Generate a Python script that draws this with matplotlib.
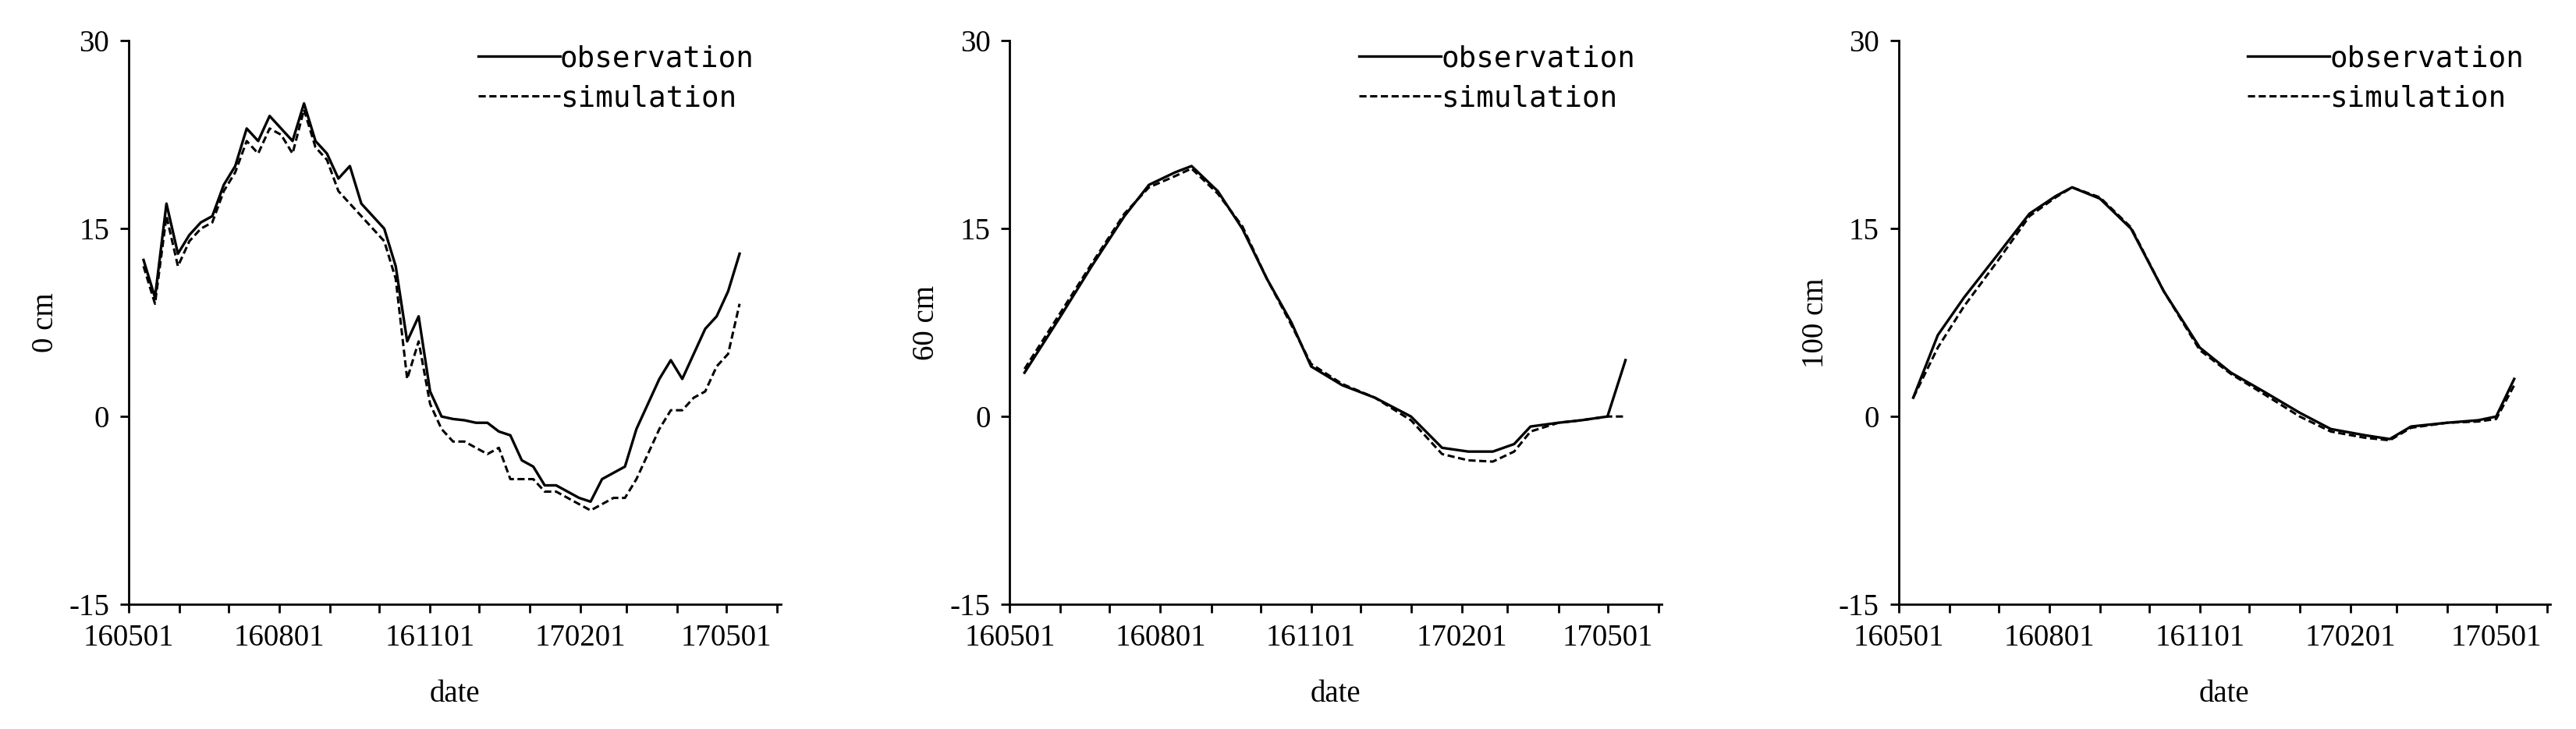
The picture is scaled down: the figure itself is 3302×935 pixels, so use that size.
import matplotlib
matplotlib.use("Agg")
import matplotlib.pyplot as plt
import matplotlib.dates as mdates
import datetime as dt

plt.rcParams["axes.unicode_minus"] = False

# ---- data ----
start0 = dt.date(2016, 5, 10)
dates0 = [start0 + dt.timedelta(days=7 * i) for i in range(53)]
obs0 = [12.5, 9.5, 17, 13, 14.5, 15.5, 16, 18.5, 20, 23, 22, 24, 23, 22, 25, 22, 21, 19, 20, 17, 16,
        15, 12, 6, 8, 2, 0, -0.2, -0.3, -0.5, -0.5, -1.2, -1.5, -3.5, -4, -5.5, -5.5, -6, -6.5, -6.8,
        -5, -4.5, -4, -1, 1, 3, 4.5, 3, 5, 7, 8, 10, 13]
sim0 = [12, 9, 16, 12, 14, 15, 15.5, 18, 19.5, 22, 21, 23, 22.5, 21, 24.5, 21.5, 20.5, 18, 17, 16, 15,
        14, 11, 3, 6, 1, -1, -2, -2, -2.5, -3, -2.5, -5, -5, -5, -6, -6, -6.5, -7, -7.5, -7, -6.5,
        -6.5, -5, -3, -1, 0.5, 0.5, 1.5, 2, 4, 5, 9]

dates60 = ["2016-05-10", "2016-06-01", "2016-06-20", "2016-07-10", "2016-07-25", "2016-08-10",
           "2016-08-20", "2016-09-05", "2016-09-20", "2016-10-05", "2016-10-20", "2016-11-01",
           "2016-11-20", "2016-12-10", "2017-01-01", "2017-01-20", "2017-02-05", "2017-02-20",
           "2017-03-05", "2017-03-15", "2017-04-01", "2017-04-15", "2017-05-01", "2017-05-12"]
obs60 = [3.5, 8, 12, 16, 18.5, 19.5, 20, 18, 15, 11, 7.5, 4, 2.5, 1.5, 0, -2.5, -2.8, -2.8, -2.2,
         -0.8, -0.5, -0.3, 0, 4.5]
sim60 = [3.8, 8.3, 12.2, 16.2, 18.3, 19.2, 19.8, 17.8, 15.2, 11, 7.3, 4.2, 2.6, 1.5, -0.3, -3,
         -3.5, -3.6, -2.8, -1.2, -0.5, -0.3, 0, 0]

dates100 = ["2016-05-10", "2016-05-25", "2016-06-10", "2016-07-01", "2016-07-20", "2016-08-05",
            "2016-08-15", "2016-09-01", "2016-09-20", "2016-10-10", "2016-11-01", "2016-11-20",
            "2016-12-10", "2017-01-01", "2017-01-20", "2017-02-10", "2017-02-25", "2017-03-10",
            "2017-04-01", "2017-04-20", "2017-05-01", "2017-05-12"]
obs100 = [1.5, 6.5, 9.5, 13, 16.2, 17.6, 18.3, 17.4, 15, 10, 5.5, 3.5, 2, 0.3, -1, -1.5, -1.8, -0.8,
          -0.5, -0.3, 0, 3]
sim100 = [1.5, 5.5, 8.8, 12.5, 16, 17.5, 18.3, 17.5, 15.1, 10, 5.3, 3.4, 1.8, 0, -1.2, -1.7, -1.9,
          -0.9, -0.5, -0.4, -0.2, 2.5]

labels = ["0 cm", "60 cm", "100 cm"]
yticks = [-15, 0, 15, 30]

# ---- plot ----
def todt(lst):
    return [d if isinstance(d, dt.date) else dt.date.fromisoformat(d) for d in lst]

series = [(todt(dates0), obs0, sim0), (todt(dates60), obs60, sim60), (todt(dates100), obs100, sim100)]
fig = plt.figure(figsize=(33.02, 9.35), dpi=100)
lefts = [0.050, 0.392, 0.737]
width = 0.253
serif = "Liberation Serif"
mono = "DejaVu Sans Mono"
for i, (d, o, s) in enumerate(series):
    ax = fig.add_axes([lefts[i], 0.171, width, 0.773])
    ax.plot(d, o, color="black", lw=2.4, ls="-", label="observation")
    ax.plot(d, s, color="black", lw=2.2, ls=(0, (3, 1.5)), label="simulation")
    ax.set_xlim(dt.date(2016, 5, 1), dt.date(2017, 6, 3))
    ax.set_ylim(-15, 30)
    ax.set_yticks(yticks)
    ax.xaxis.set_major_locator(mdates.MonthLocator(bymonth=[2, 5, 8, 11]))
    ax.xaxis.set_minor_locator(mdates.MonthLocator())
    ax.xaxis.set_major_formatter(mdates.DateFormatter("%y%m%d"))
    for sp in ["top", "right"]:
        ax.spines[sp].set_visible(False)
    for sp in ["left", "bottom"]:
        ax.spines[sp].set_linewidth(2)
    ax.tick_params(direction="out", length=8, width=2, labelsize=28, pad=10)
    ax.tick_params(which="minor", direction="out", length=8, width=2)
    for t in ax.get_xticklabels() + ax.get_yticklabels():
        t.set_fontfamily(serif)
    ax.set_xlabel("date", fontsize=28, fontfamily=serif, labelpad=25)
    ax.set_ylabel(labels[i], fontsize=28, fontfamily=serif, labelpad=8)
    ax.legend(loc="upper right", bbox_to_anchor=(1.0, 1.04), frameon=False,
              prop={"family": mono, "size": 27}, handlelength=2.8, handletextpad=0.0,
              labelspacing=0.4)
fig.savefig("out.png", dpi=100)
